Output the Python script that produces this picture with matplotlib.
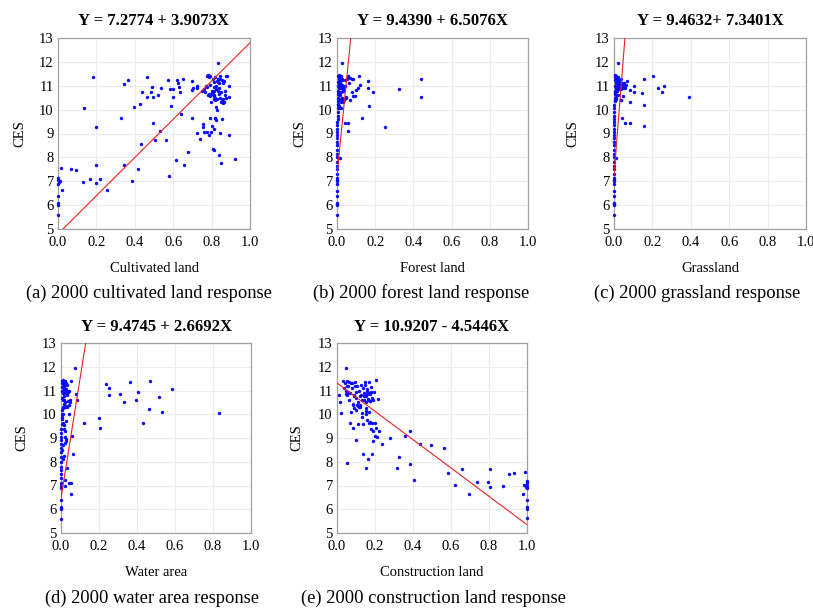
import matplotlib
matplotlib.use("Agg")
import matplotlib.pyplot as plt
import numpy as np

# ---------------- data ----------------
titles = ["Y = 7.2774 + 3.9073X", "Y = 9.4390 + 6.5076X", "Y = 9.4632+ 7.3401X",
          "Y = 9.4745 + 2.6692X", "Y = 10.9207 - 4.5446X"]
xlabels = ["Cultivated land", "Forest land", "Grassland", "Water area", "Construction land"]
captions = ["(a) 2000 cultivated land response", "(b) 2000 forest land response",
            "(c) 2000 grassland response", "(d) 2000 water area response",
            "(e) 2000 construction land response"]
xticks = [0.0, 0.2, 0.4, 0.6, 0.8, 1.0]
yticks = [5, 6, 7, 8, 9, 10, 11, 12, 13]

# (a) cultivated land
a_x = [0.0, 0.0, 0.0, 0.0, 0.0, 0.0, 0.0, 0.003, 0.014, 0.008, 0.02,
       0.07, 0.096, 0.13, 0.134, 0.167, 0.184, 0.197, 0.198, 0.2, 0.22, 0.257,
       0.327, 0.343, 0.343, 0.362, 0.383, 0.398, 0.419, 0.428, 0.43, 0.435, 0.463, 0.466,
       0.483, 0.49, 0.494, 0.494, 0.504, 0.52, 0.532, 0.536, 0.563, 0.574, 0.579, 0.584,
       0.59, 0.597, 0.597, 0.614, 0.621, 0.626, 0.63, 0.638, 0.643, 0.652, 0.657, 0.675,
       0.699, 0.699, 0.7, 0.703, 0.722, 0.725, 0.725, 0.741, 0.748, 0.757, 0.757, 0.76,
       0.777, 0.788, 0.774, 0.788, 0.793, 0.797, 0.803, 0.805, 0.81, 0.812, 0.817, 0.82,
       0.824, 0.833, 0.836, 0.842, 0.847, 0.852, 0.892, 0.922, 0.889, 0.892, 0.875, 0.88,
       0.868, 0.857,
       0.775, 0.78, 0.785, 0.79, 0.79, 0.795, 0.8, 0.8, 0.805, 0.805, 0.81, 0.81, 0.812,
       0.815, 0.815, 0.818, 0.82, 0.82, 0.822, 0.825, 0.825, 0.828, 0.83, 0.83, 0.832,
       0.835, 0.838, 0.84, 0.84, 0.843, 0.845, 0.848, 0.85, 0.852, 0.855, 0.858, 0.86,
       0.862, 0.865, 0.87, 0.875, 0.76, 0.765, 0.77, 0.78, 0.79, 0.8, 0.81, 0.835, 0.845]
a_y = [7.15, 7.05, 6.9, 6.4, 6.1, 6.0, 5.6, 6.95, 7.56, 7.0, 6.63,
       7.5, 7.48, 6.95, 10.05, 7.09, 11.38, 7.69, 9.29, 6.91, 7.1, 6.63,
       9.63, 11.09, 7.69, 11.26, 7.0, 10.09, 7.51, 10.24, 8.58, 10.73, 10.53, 11.36,
       10.73, 10.94, 10.53, 9.42, 8.71, 10.62, 9.11, 10.92, 8.72, 11.24, 7.23, 10.86,
       10.17, 10.86, 10.53, 7.91, 11.26, 11.1, 10.94, 10.73, 9.81, 11.29, 7.7, 8.22,
       11.19, 9.63, 10.81, 10.91, 9.03, 11.0, 10.92, 8.75, 10.8, 9.39, 9.28, 9.07,
       11.42, 11.38, 9.07, 8.92, 9.67, 9.06, 9.31, 8.33, 9.18, 8.3, 9.67, 9.63,
       9.58, 11.97, 8.08, 9.03, 7.75, 9.6, 8.92, 7.94, 11.0, 10.53, 11.4, 11.4,
       10.78, 10.28,
       10.95, 10.6, 10.65, 10.55, 11.05, 10.3, 10.65, 10.7, 10.75, 11.3, 10.45, 10.8, 10.95,
       11.15, 10.6, 10.4, 11.35, 10.5, 10.85, 11.0, 10.1, 11.2, 10.45, 10.0, 10.8,
       11.3, 10.65, 11.1, 10.9, 10.5, 11.4, 10.3, 10.75, 11.25, 10.35, 11.1, 10.45,
       11.2, 10.3, 10.6, 10.5, 10.85, 10.75, 11.0, 11.45, 11.4, 10.8, 10.55, 11.15, 11.3]
a_line_x = [0.026, 1.0]
a_line_y = [5.0, 12.8]

# (b) forest land
b_x = [0.0, 0.0, 0.0, 0.0, 0.0, 0.0, 0.0, 0.0, 0.0, 0.0, 0.0, 0.0, 0.0, 0.0, 0.0,
       0.001, 0.001, 0.001, 0.001, 0.001, 0.002, 0.002, 0.002, 0.002, 0.002, 0.003, 0.003,
       0.003, 0.004, 0.004, 0.004, 0.005, 0.005, 0.006,
       0.026, 0.014, 0.07, 0.061, 0.056, 0.077, 0.086, 0.117, 0.119, 0.108, 0.1, 0.094,
       0.08, 0.084, 0.07, 0.047, 0.044, 0.059, 0.058, 0.131, 0.164, 0.162, 0.187, 0.166,
       0.25, 0.326, 0.442, 0.438, 0.03, 0.038, 0.02, 0.012,
       0.005, 0.008, 0.01, 0.012, 0.015, 0.018, 0.02, 0.022, 0.025, 0.028, 0.03, 0.032,
       0.035, 0.038, 0.04, 0.005, 0.008, 0.01, 0.012, 0.015, 0.018, 0.02, 0.022, 0.025,
       0.028, 0.03, 0.033, 0.036, 0.04, 0.045, 0.05, 0.003, 0.006, 0.009, 0.013, 0.016,
       0.019, 0.024, 0.027, 0.031, 0.034, 0.009, 0.012, 0.017]
b_y = [5.6, 6.0, 6.05, 6.1, 6.4, 6.6, 6.9, 7.0, 7.05, 7.15, 7.3, 7.5, 7.65, 7.8, 8.0,
       8.15, 8.3, 8.5, 8.65, 8.8, 8.95, 9.05, 9.2, 9.35, 9.5, 9.6, 9.75, 9.9, 10.05, 10.2,
       10.35, 10.5, 10.65, 10.8,
       11.97, 7.97, 11.33, 11.1, 11.4, 11.3, 11.27, 11.41, 11.03, 10.9, 10.81, 10.55,
       10.73, 10.56, 10.42, 10.53, 9.45, 9.42, 9.11, 9.64, 11.19, 10.92, 10.72, 10.17,
       9.29, 10.86, 11.27, 10.53, 10.4, 10.4, 10.05, 10.05,
       11.4, 11.35, 11.2, 11.3, 11.1, 11.25, 11.0, 10.95, 11.05, 10.9, 10.85, 11.0,
       10.95, 10.9, 11.25, 11.0, 10.7, 11.45, 10.6, 10.9, 11.15, 10.75, 10.3, 10.5,
       11.3, 10.3, 10.8, 10.95, 11.0, 10.5, 11.3, 11.15, 10.25, 10.9, 11.05, 10.6,
       11.4, 10.35, 11.25, 10.95, 10.8, 10.15, 11.1, 10.45]
b_line_x = [0.0, 0.072]
b_line_y = [7.26, 13.0]

# (c) grassland
c_x = [0.0, 0.0, 0.0, 0.0, 0.0, 0.0, 0.0, 0.0, 0.0, 0.0, 0.0, 0.0, 0.0, 0.0, 0.0,
       0.0, 0.0, 0.0, 0.0, 0.0, 0.001, 0.001, 0.001, 0.001, 0.001, 0.001, 0.002, 0.002,
       0.002, 0.002, 0.003, 0.003, 0.003, 0.004,
       0.019, 0.012, 0.068, 0.104, 0.106, 0.082, 0.082, 0.049, 0.037, 0.043, 0.059, 0.082,
       0.144, 0.155, 0.155, 0.155, 0.203, 0.228, 0.25, 0.261, 0.393, 0.054, 0.031, 0.024,
       0.004, 0.006, 0.008, 0.01, 0.012, 0.014, 0.016, 0.018, 0.02, 0.022, 0.025, 0.028,
       0.03, 0.033, 0.036, 0.04, 0.045, 0.05, 0.005, 0.007, 0.009, 0.011, 0.013, 0.015,
       0.017, 0.02, 0.023, 0.026, 0.03, 0.034, 0.038, 0.042, 0.003, 0.006, 0.008, 0.01,
       0.014, 0.018, 0.022, 0.026, 0.06, 0.055]
c_y = [5.6, 6.0, 6.05, 6.1, 6.4, 6.6, 6.9, 7.0, 7.05, 7.15, 7.3, 7.5, 7.65, 7.8, 8.0,
       8.15, 8.3, 8.5, 8.65, 8.8, 8.95, 9.05, 9.2, 9.35, 9.5, 9.6, 9.75, 9.9, 10.05, 10.2,
       10.35, 10.5, 10.65, 10.8,
       11.97, 7.97, 11.2, 11.0, 10.75, 10.84, 10.3, 10.55, 10.42, 9.65, 9.43, 9.42,
       10.71, 11.28, 10.19, 9.3, 11.4, 10.92, 10.73, 11.0, 10.53, 11.05, 11.26, 10.92,
       11.45, 11.35, 11.2, 11.4, 11.1, 11.3, 10.95, 11.15, 11.05, 10.85, 11.25, 10.9,
       11.1, 10.95, 11.3, 11.0, 10.9, 11.1, 11.0, 10.7, 10.5, 10.45, 10.9, 11.2, 10.8,
       10.6, 11.35, 10.85, 11.05, 10.85, 10.4, 11.1, 11.25, 10.4, 11.3, 10.6, 11.15,
       10.95, 10.85, 11.2, 11.05, 10.9]
c_line_x = [0.0, 0.057]
c_line_y = [7.26, 13.0]

# (d) water area
d_x = [0.0, 0.0, 0.0, 0.0, 0.0, 0.0, 0.0, 0.0, 0.0, 0.0, 0.0, 0.0, 0.0, 0.0, 0.0,
       0.001, 0.001, 0.001, 0.002, 0.002, 0.002, 0.003, 0.003, 0.004, 0.004,
       0.076, 0.079, 0.086, 0.054, 0.04, 0.058, 0.063, 0.032, 0.044, 0.051, 0.053, 0.023,
       0.019, 0.121, 0.2, 0.206, 0.239, 0.251, 0.25, 0.308, 0.334, 0.362, 0.404, 0.397,
       0.432, 0.462, 0.466, 0.518, 0.531, 0.582, 0.833,
       0.018, 0.02, 0.026, 0.024, 0.021, 0.012, 0.008, 0.015, 0.01, 0.006, 0.014, 0.02,
       0.025, 0.012, 0.009, 0.016, 0.007, 0.011,
       0.005, 0.008, 0.01, 0.012, 0.015, 0.018, 0.02, 0.022, 0.025, 0.028, 0.03, 0.033,
       0.036, 0.04, 0.045, 0.005, 0.007, 0.009, 0.011, 0.013, 0.015, 0.017, 0.02, 0.023,
       0.026, 0.03, 0.034, 0.038, 0.042, 0.048, 0.003, 0.006, 0.008, 0.01, 0.014, 0.018,
       0.022, 0.026, 0.03, 0.035]
d_y = [5.6, 6.0, 6.05, 6.1, 6.4, 6.9, 7.0, 7.1, 7.3, 7.5, 7.65, 7.8, 8.0, 8.2, 8.4,
       8.6, 8.75, 8.9, 9.05, 9.2, 9.4, 9.6, 9.8, 10.0, 10.2,
       11.96, 10.84, 10.61, 11.39, 10.0, 9.1, 8.33, 7.72, 7.1, 7.1, 6.63, 7.0,
       7.23, 9.62, 9.83, 9.44, 11.26, 11.12, 10.8, 10.85, 10.53, 11.36, 10.95, 10.61,
       9.63, 10.23, 11.4, 10.73, 10.08, 11.08, 10.05,
       9.37, 9.3, 8.86, 8.95, 9.05, 9.6, 9.65, 9.55, 8.7, 8.5, 8.25, 8.8, 9.7, 10.0,
       10.3, 10.45, 9.9, 8.1,
       11.4, 11.35, 11.2, 11.3, 11.1, 11.25, 11.0, 10.95, 11.05, 10.9, 10.85, 11.0,
       10.95, 10.4, 10.6, 11.0, 10.7, 11.45, 10.6, 10.9, 11.15, 10.75, 10.3, 10.5,
       11.3, 10.3, 10.8, 10.55, 11.0, 10.5, 11.3, 11.15, 10.25, 10.9, 11.05, 10.6,
       11.4, 10.35, 11.25, 10.95]
d_line_x = [0.0, 0.13]
d_line_y = [6.47, 13.0]

# (e) construction land
e_x = [0.046, 0.009, 0.018, 0.021, 0.054, 0.07, 0.082, 0.102, 0.135, 0.151, 0.161,
       0.182, 0.135, 0.156, 0.174, 0.181, 0.191, 0.204, 0.198, 0.209, 0.189, 0.219,
       0.237, 0.281, 0.204, 0.218, 0.17, 0.17, 0.185, 0.2,
       0.314, 0.325, 0.36, 0.384, 0.384, 0.405, 0.437, 0.496, 0.565, 0.582, 0.619, 0.658,
       0.695, 0.737, 0.796, 0.805, 0.804, 0.872, 0.907, 0.932, 0.988, 0.982, 0.977,
       1.0, 1.0, 1.0, 1.0, 1.0, 1.0, 1.0, 1.0, 0.995,
       0.03, 0.035, 0.04, 0.045, 0.05, 0.055, 0.06, 0.065, 0.07, 0.075, 0.08, 0.085,
       0.09, 0.095, 0.1, 0.105, 0.11, 0.115, 0.12, 0.125, 0.13, 0.135, 0.14, 0.145,
       0.15, 0.155, 0.16, 0.165, 0.17, 0.175, 0.18, 0.185, 0.19, 0.195, 0.045, 0.06,
       0.075, 0.09, 0.1, 0.11, 0.12, 0.13, 0.14, 0.15, 0.16, 0.17, 0.18, 0.065, 0.085,
       0.095, 0.105, 0.115, 0.125, 0.145, 0.155, 0.165, 0.175, 0.05, 0.08, 0.1, 0.12,
       0.14, 0.16, 0.11, 0.13, 0.15, 0.175, 0.09]
e_y = [11.95, 10.79, 10.52, 10.05, 7.95, 9.64, 9.42, 8.92, 8.34, 7.74, 8.12,
       8.33, 9.6, 9.77, 9.69, 9.38, 9.29, 9.42, 9.1, 9.03, 8.86, 9.3,
       8.76, 9.01, 11.46, 10.65, 10.09, 9.62, 9.65, 9.65,
       7.73, 8.22, 9.1, 9.28, 7.91, 7.22, 8.73, 8.71, 8.58, 7.53, 7.01, 7.69,
       6.64, 7.13, 7.13, 7.69, 6.93, 6.96, 7.49, 7.52, 7.56, 7.03, 6.64,
       5.63, 6.0, 6.1, 6.4, 6.9, 7.0, 7.1, 7.2, 6.95,
       11.4, 11.1, 11.3, 11.0, 10.8, 11.4, 11.2, 10.6, 10.9, 11.3, 11.1, 10.4,
       10.8, 11.35, 10.7, 11.2, 10.5, 11.0, 10.3, 11.25, 10.6, 11.1, 10.9, 11.35,
       10.5, 10.75, 11.0, 10.65, 10.9, 10.55, 11.15, 10.7, 10.6, 10.95, 10.85, 10.95,
       10.1, 10.25, 10.95, 10.35, 10.75, 10.05, 10.6, 10.25, 10.85, 11.35, 10.95,
       11.35, 10.45, 11.2, 10.4, 10.3, 10.8, 11.25, 10.15, 10.6, 10.85, 11.2, 11.3,
       10.2, 10.4, 10.75, 11.05, 9.6, 9.9, 10.0, 10.55, 10.75]
e_line_x = [0.0, 1.0]
e_line_y = [11.32, 5.35]

xs = [a_x, b_x, c_x, d_x, e_x]
ys = [a_y, b_y, c_y, d_y, e_y]
lxs = [a_line_x, b_line_x, c_line_x, d_line_x, e_line_x]
lys = [a_line_y, b_line_y, c_line_y, d_line_y, e_line_y]

# ---------------- layout (pixels) ----------------
W, H = 813, 610
plt.rcParams['font.family'] = ['Liberation Serif', 'DejaVu Serif']
fig = plt.figure(figsize=(W / 100, H / 100), dpi=100)

# left, right, top, bottom in pixels
boxes = [(58, 250, 38, 229), (337, 528, 38, 229), (614, 806, 38, 229),
         (61, 251, 343, 533), (337, 527, 343, 533)]
title_y = [21, 21, 21, 327, 327]
xlabel_y = [268, 268, 268, 572, 572]
cap_y = [293, 293, 293, 598, 598]
cap_x = [149, 421, 697, 152, 433]
ylab_x = [20, 300, 573, 22, 297]


def fx(px):
    return px / W


def fy(py):
    return 1 - py / H


for i in range(5):
    l, r, t, b = boxes[i]
    ax = fig.add_axes([fx(l), fy(b), (r - l) / W, (b - t) / H])
    ax.set_xlim(0, 1)
    ax.set_ylim(5, 13)
    ax.set_xticks(xticks)
    ax.set_xticklabels([f"{v:.1f}" for v in xticks], fontsize=10.5)
    ax.set_yticks(yticks)
    ax.set_yticklabels([str(v) for v in yticks], fontsize=10.5)
    ax.tick_params(axis='x', length=0, pad=5)
    ax.tick_params(axis='y', length=0, pad=3)
    ax.grid(True, color='#ececec', linewidth=0.8)
    ax.set_axisbelow(True)
    for s in ax.spines.values():
        s.set_color('#a0a0a0')
        s.set_linewidth(0.9)
    ax.scatter(xs[i], ys[i], s=6, color='#0a0aff', linewidths=0, zorder=3, clip_on=False)
    ax.plot(lxs[i], lys[i], color='#e8211f', linewidth=0.8, zorder=4)

    cx = (l + r) / 2
    fig.text(fx(cx), fy(title_y[i]), titles[i], ha='center', va='center',
             fontsize=12, fontweight='bold')
    fig.text(fx(cx), fy(xlabel_y[i]), xlabels[i], ha='center', va='center', fontsize=10.5)
    fig.text(fx(cap_x[i]), fy(cap_y[i]), captions[i], ha='center', va='center', fontsize=13.3)
    fig.text(fx(ylab_x[i]), fy((t + b) / 2), "CES", ha='center', va='center',
             rotation=90, fontsize=10.5)

fig.savefig("out.png", dpi=100)
